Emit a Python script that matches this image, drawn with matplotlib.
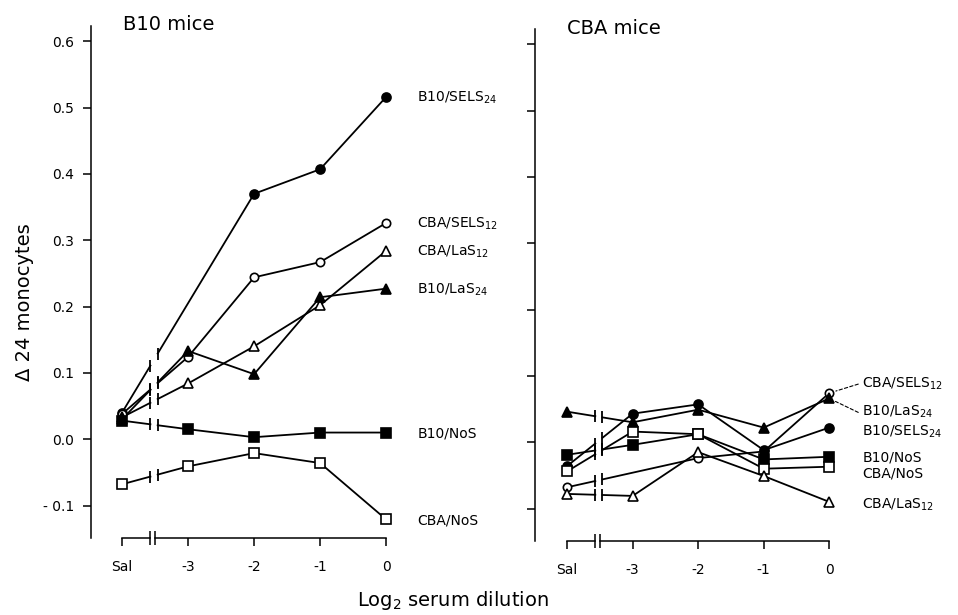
import numpy as np
import matplotlib
matplotlib.use('Agg')
import matplotlib.pyplot as plt

nan = np.nan

# x positions: Sal, then log2 dilutions -3 .. 0
x_pos = [-4, -3, -2, -1, 0]
x_labels = ['Sal', '-3', '-2', '-1', '0']
y_ticks = [-0.1, 0.0, 0.1, 0.2, 0.3, 0.4, 0.5, 0.6]
y_tick_labels = ['- 0.1', '0.0', '0.1', '0.2', '0.3', '0.4', '0.5', '0.6']

# B10 mice
b10_sels24 = [0.040, nan, 0.370, 0.407, 0.516]
b10_cba_sels12 = [0.038, 0.124, 0.244, 0.267, 0.326]
b10_cba_las12 = [0.033, 0.084, 0.140, 0.202, 0.284]
b10_las24 = [0.030, 0.133, 0.098, 0.214, 0.227]
b10_nos = [0.028, 0.015, 0.003, 0.010, 0.010]
b10_cba_nos = [-0.068, -0.041, -0.021, -0.036, -0.121]

# CBA mice
cba_b10_sels24 = [-0.036, 0.043, 0.057, -0.012, 0.022]
cba_sels12 = [-0.068, nan, -0.024, -0.014, 0.074]
cba_b10_las24 = [0.046, 0.030, 0.049, 0.022, 0.066]
cba_b10_nos = [-0.019, -0.004, 0.012, -0.026, -0.022]
cba_nos = [-0.044, 0.016, 0.012, -0.040, -0.037]
cba_las12 = [-0.078, -0.081, -0.015, -0.051, -0.090]

# marker styles per serum
styles = {
    'B10/SELS$_{24}$': ('o', True, 6.5),
    'CBA/SELS$_{12}$': ('o', False, 6),
    'CBA/LaS$_{12}$': ('^', False, 7.5),
    'B10/LaS$_{24}$': ('^', True, 7.5),
    'B10/NoS': ('s', True, 7),
    'CBA/NoS': ('s', False, 7),
}

left_series = [
    ('B10/SELS$_{24}$', b10_sels24, 0),
    ('CBA/SELS$_{12}$', b10_cba_sels12, 0),
    ('CBA/LaS$_{12}$', b10_cba_las12, 0),
    ('B10/LaS$_{24}$', b10_las24, 0),
    ('B10/NoS', b10_nos, 0),
    ('CBA/NoS', b10_cba_nos, 0),
]
right_series = [
    ('CBA/SELS$_{12}$', cba_sels12, 11),
    ('B10/LaS$_{24}$', cba_b10_las24, -12),
    ('B10/SELS$_{24}$', cba_b10_sels24, -3),
    ('B10/NoS', cba_b10_nos, 0),
    ('CBA/NoS', cba_nos, -6),
    ('CBA/LaS$_{12}$', cba_las12, -2),
]
leaders = ['CBA/SELS$_{12}$', 'B10/LaS$_{24}$']

BREAK = (-3.57, -3.46)
LW = 1.3
YLIM = (-0.149, 0.623)

fig = plt.figure(figsize=(9.58, 6.15), dpi=100)
ax1 = fig.add_axes([91 / 958, 1 - 538 / 615, 309 / 958, 512 / 615])
ax2 = fig.add_axes([535 / 958, 1 - 541 / 615, 308 / 958, 512 / 615])


def draw_series(ax, y):
    xs = np.array(x_pos, dtype=float)
    ys = np.array(y, dtype=float)
    ok = ~np.isnan(ys)
    xv, yv = xs[ok], ys[ok]
    yb1 = np.interp(BREAK[0], xv, yv)
    yb2 = np.interp(BREAK[1], xv, yv)
    ax.plot([xv[0], BREAK[0]], [yv[0], yb1], color='k', lw=LW, zorder=2)
    ax.plot([BREAK[1]] + list(xv[1:]), [yb2] + list(yv[1:]), color='k', lw=LW, zorder=2)
    ax.plot(BREAK, [yb1, yb2], ls='none', marker='|', ms=9, mew=1.3, color='k', zorder=2)
    return xv, yv


def setup(ax, xlim, show_labels):
    ax.set_xlim(*xlim)
    ax.set_ylim(*YLIM)
    for s in ['top', 'right', 'bottom']:
        ax.spines[s].set_visible(False)
    ax.spines['left'].set_linewidth(1.1)
    ax.set_yticks(y_ticks)
    if show_labels:
        ax.set_yticklabels(y_tick_labels)
    else:
        ax.set_yticklabels([])
    ax.set_xticks(x_pos)
    ax.set_xticklabels(x_labels)
    ax.tick_params(axis='y', length=6, width=1.1, pad=6, labelsize=10)
    ax.tick_params(axis='x', length=6, width=1.1, pad=10, labelsize=10)
    # x axis with a break between Sal and -3
    y0 = YLIM[0]
    ax.plot([-4, -3.57], [y0, y0], color='k', lw=1.1, clip_on=False)
    ax.plot([-3.5, 0], [y0, y0], color='k', lw=1.1, clip_on=False)
    ax.plot([-3.57, -3.5], [y0, y0], ls='none', marker='|', ms=10, mew=1.1,
            color='k', clip_on=False)


def panel(ax, series, dx):
    for name, y, dy in series:
        marker, filled, ms = styles[name]
        xv, yv = draw_series(ax, y)
        ax.plot(xv, yv, ls='none', marker=marker, ms=ms, mec='k', mew=1.2,
                mfc='k' if filled else 'white', zorder=3, clip_on=False)
        if name in leaders and ax is ax2:
            ax.annotate('', xy=(xv[-1], yv[-1]), xytext=(dx - 4, dy - 2),
                        textcoords='offset pixels',
                        arrowprops=dict(arrowstyle='-', ls=(0, (3, 2)), lw=0.8,
                                        shrinkA=0, shrinkB=5))
        ax.annotate(name, xy=(xv[-1], yv[-1]), xytext=(dx, dy - 5),
                    textcoords='offset pixels', ha='left', va='baseline',
                    fontsize=10, annotation_clip=False)


setup(ax1, (-4.47, 0.21), True)
setup(ax2, (-4.49, 0.21), False)
panel(ax1, left_series, 31)
panel(ax2, right_series, 33)

fig.text(123 / 958, 1 - 25 / 615, 'B10 mice', fontsize=14, ha='left', va='center')
fig.text(567 / 958, 1 - 28 / 615, 'CBA mice', fontsize=14, ha='left', va='center')
fig.text(25 / 958, 1 - 302 / 615, '\u0394 24 monocytes', fontsize=14,
         rotation=90, ha='center', va='center')
fig.text(453 / 958, 1 - 606 / 615, 'Log$_2$ serum dilution', fontsize=14,
         ha='center', va='baseline')

fig.savefig('out.png', dpi=100)
